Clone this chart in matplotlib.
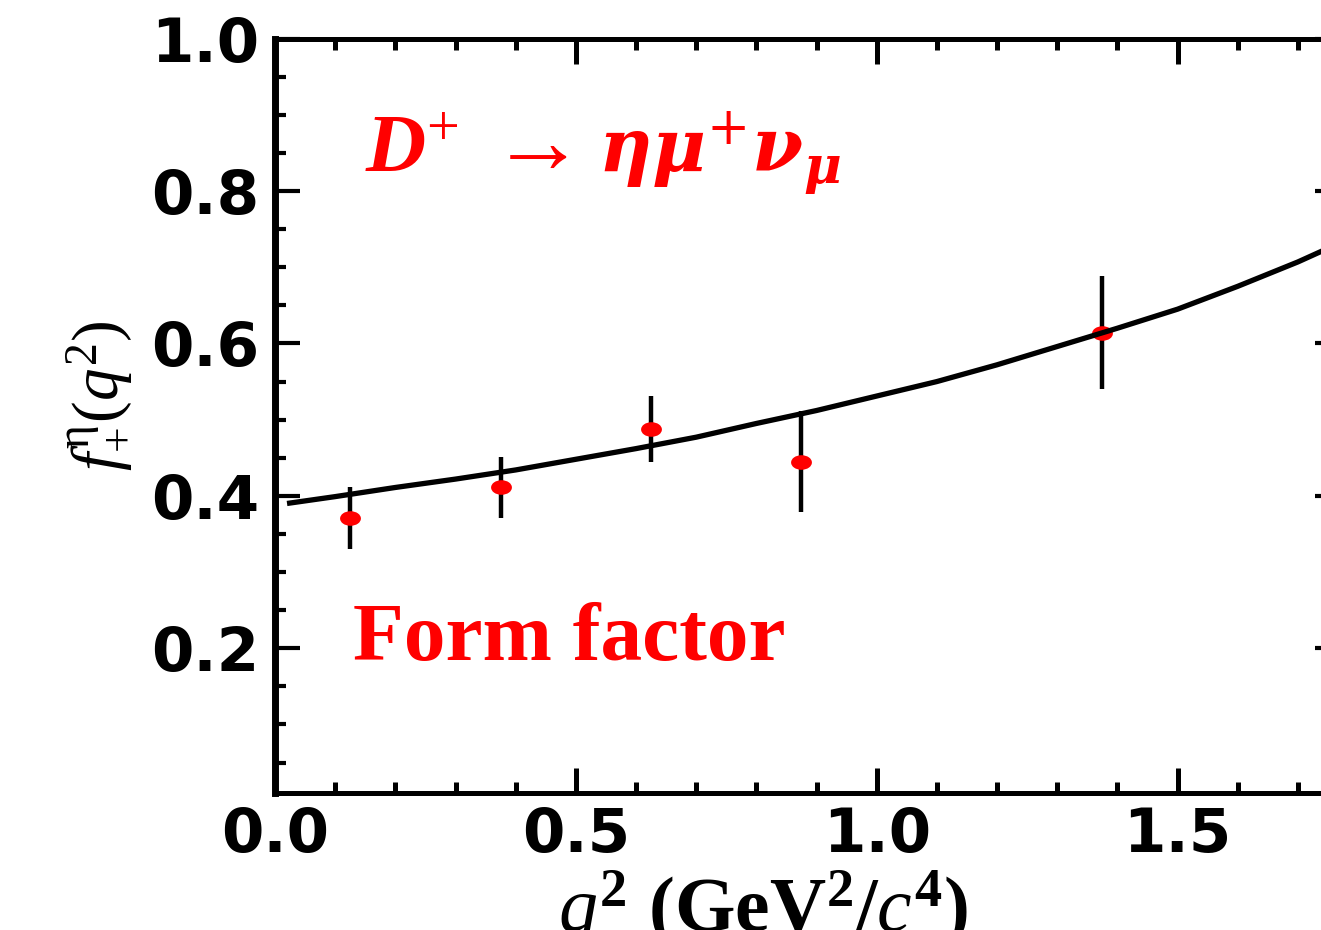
import numpy as np
import matplotlib
matplotlib.use("Agg")
import matplotlib.pyplot as plt
from matplotlib.path import Path
from matplotlib.ticker import MultipleLocator, FixedLocator

plt.rcParams['mathtext.fontset'] = 'custom'
plt.rcParams['mathtext.rm'] = 'Liberation Serif'
plt.rcParams['mathtext.it'] = 'Liberation Serif:italic'
plt.rcParams['mathtext.bf'] = 'Liberation Serif:bold'
plt.rcParams['mathtext.bfit'] = 'Liberation Serif:bold:italic'

# ---- data ----
q2_bins = [0.125, 0.375, 0.625, 0.875, 1.375]
ff_values = [0.371, 0.411, 0.488, 0.445, 0.614]
ff_errors = [0.041, 0.040, 0.043, 0.066, 0.074]

fit_q2 = [0.02, 0.1, 0.2, 0.3, 0.4, 0.5, 0.6, 0.7, 0.8, 0.9, 1.0,
          1.1, 1.2, 1.3, 1.4, 1.5, 1.6, 1.7, 1.77]
fit_ff = [0.390, 0.399, 0.411, 0.422, 0.434, 0.448, 0.462, 0.477, 0.495,
          0.512, 0.531, 0.550, 0.572, 0.596, 0.620, 0.645, 0.675, 0.707, 0.732]

xticks = [0.0, 0.5, 1.0, 1.5]
xticklabels = ['0.0', '0.5', '1.0', '1.5']
yticks = [0.2, 0.4, 0.6, 0.8, 1.0]
yticklabels = ['0.2', '0.4', '0.6', '0.8', '1.0']

W, H = 1321, 930
fig = plt.figure(figsize=(W / 100, H / 100), dpi=100)
ax = fig.add_axes([275 / W, 137 / H, (1340 - 275) / W, (793 - 38.7) / H])
ax.set_xlim(0, 1.77)
ax.set_ylim(0.01, 1.0)

# elliptical marker
circ = Path.unit_circle()
ell = Path(circ.vertices * np.array([1.0, 0.7]), circ.codes)

ax.errorbar(q2_bins, ff_values, yerr=ff_errors, fmt='none', ecolor='black',
            elinewidth=3.2, capsize=0, zorder=2)
ax.plot(q2_bins, ff_values, linestyle='none', marker=ell, markersize=15,
        color='red', markeredgewidth=0, zorder=3)
ax.plot(fit_q2, fit_ff, color='black', linewidth=3.8, zorder=4,
        solid_capstyle='butt')

# spines and ticks
for s in ['left', 'right']:
    ax.spines[s].set_linewidth(5)
for s in ['top', 'bottom']:
    ax.spines[s].set_linewidth(3.6)

ax.xaxis.set_major_locator(FixedLocator(xticks))
ax.set_xticklabels(xticklabels)
ax.xaxis.set_minor_locator(MultipleLocator(0.1))
ax.yaxis.set_major_locator(FixedLocator(yticks))
ax.set_yticklabels(yticklabels)
ax.yaxis.set_minor_locator(MultipleLocator(0.05))

ax.tick_params(axis='both', which='both', direction='in', top=True, right=True,
               color='black')
ax.tick_params(axis='x', which='major', length=18, width=3.6, pad=9)
ax.tick_params(axis='x', which='minor', length=8, width=3.6)
ax.tick_params(axis='y', which='major', length=18, width=3.0, pad=11)
ax.tick_params(axis='y', which='minor', length=8, width=3.0)
for lab in ax.get_xticklabels() + ax.get_yticklabels():
    lab.set_fontfamily('DejaVu Sans')
    lab.set_fontweight('bold')
    lab.set_fontsize(44)

# axis labels
ax.set_xlabel(r'$q^{\mathbf{2}}$ (GeV$^{\mathbf{2}}$/$c^{\mathbf{4}}$)',
              fontsize=56, fontweight='bold', family='Liberation Serif')
ax.xaxis.set_label_coords(0.458, -0.100)
ax.xaxis.label.set_verticalalignment('top')

ax.set_ylabel(r'$f_{+}^{\mathrm{\eta}}(q^{2})$', fontsize=47,
              family='Liberation Serif')
ax.yaxis.set_label_coords(-0.132, 0.526)

# annotations
ax.text(0.15, 0.825, r'$\mathbfit{D}^{\mathrm{+}}$',
        color='red', fontsize=60, ha='left', va='baseline')
ax.text(0.336, 0.825, r'$\rightarrow$',
        color='red', fontsize=68, ha='left', va='baseline')
ax.text(0.537, 0.825, r'$\mathbfit{\eta\mu}^{\mathrm{+}}\mathbfit{\nu}_{\mathbfit{\mu}}$',
        color='red', fontsize=53, ha='left', va='baseline',
        math_fontfamily='dejavuserif')
ax.text(0.13, 0.184, 'Form factor', color='red', fontsize=60,
        fontweight='bold', family='Liberation Serif', ha='left', va='baseline')

fig.savefig('out.png', dpi=100)
